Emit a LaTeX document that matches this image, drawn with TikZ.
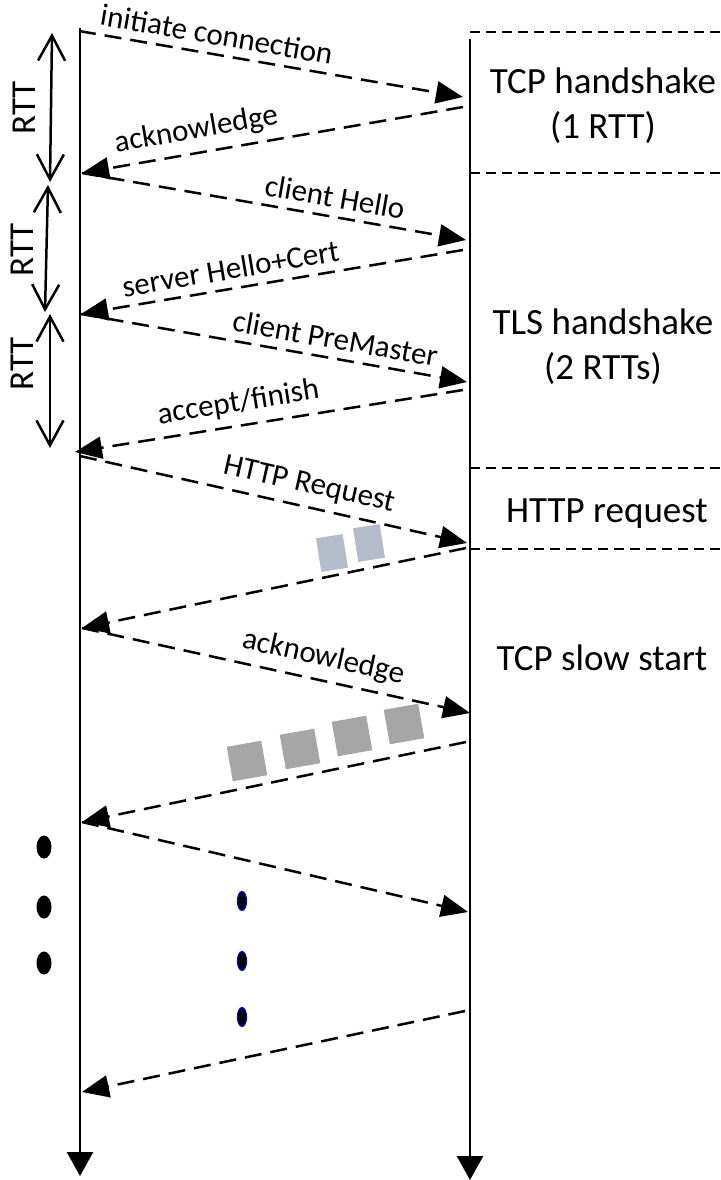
\documentclass[tikz,border=0pt]{standalone}
\usepackage{fontspec}
\setmainfont{Carlito}
\usetikzlibrary{arrows.meta,shapes.geometric}
\definecolor{pktgray}{RGB}{166,166,166}
\definecolor{reqgray}{RGB}{180,187,201}
\tikzstyle{timeline}=[line width=2.5pt,-{Triangle[length=24pt,width=26pt]}]
\tikzstyle{msg}=[line width=2.5pt,
                 dash pattern=on 17pt off 9pt,
                 -{Triangle[length=27pt,width=22pt]}]
\tikzstyle{msglabel}=[sloped,
                      above=6pt,
                      inner sep=2pt,
                      font=\fontsize{31}{37}\selectfont]
\tikzstyle{phaseline}=[line width=2pt,dash pattern=on 10pt off 6pt]
\tikzstyle{phasetext}=[align=center,font=\fontsize{37}{45}\selectfont]
\tikzstyle{rtt}=[line width=2.5pt,
                 {Straight Barb[length=25pt,width=27pt]}-{Straight Barb[length=25pt,width=27pt]}]
\tikzstyle{rttlabel}=[rotate=90,font=\fontsize{35}{42}\selectfont]
\tikzstyle{pkt}=[rectangle,fill=pktgray,minimum size=35pt,inner sep=0pt,rotate=10]
\tikzstyle{reqpkt}=[rectangle,
                    fill=reqgray,
                    minimum width=27pt,
                    minimum height=34pt,
                    inner sep=0pt,
                    rotate=9]
\tikzstyle{bigdot}=[ellipse,fill=black,minimum width=15pt,minimum height=23pt,inner sep=0pt]
\tikzstyle{bluedot}=[ellipse,
                     fill=black,
                     draw=blue,
                     line width=1.2pt,
                     minimum width=9pt,
                     minimum height=19pt,
                     inner sep=0pt]
\begin{document}
\begin{tikzpicture}[x=1pt,y=-1pt]
    \useasboundingbox (0,0) rectangle (720,1180);
    \draw[timeline] (80,28) -- (80,1176);
    \draw[timeline] (470,39) -- (470,1180);

    \draw[phaseline] (470,32) -- (720,32);
    \draw[phaseline] (470,173) -- (720,173);
    \draw[phaseline] (470,468) -- (720,468);
    \draw[phaseline] (470,549) -- (720,549);
    \node[phasetext] (tcphs) at (603,106) {TCP handshake\\(1 RTT)};
    \node[phasetext] (tlshs) at (603,347) {TLS handshake\\(2 RTTs)};
    \node[phasetext,anchor=base] (httpreq) at (607,522) {HTTP request};
    \node[phasetext,anchor=base] (slowstart) at (602,670) {TCP slow start};

    \coordinate (c1) at (79,31);
    \coordinate (s1) at (463,97);
    \coordinate (s2) at (463,107);
    \coordinate (c2) at (82,173);
    \coordinate (s3) at (466,240);
    \coordinate (s4) at (463,250);
    \coordinate (c4) at (81,314);
    \coordinate (s5) at (467,382);
    \coordinate (s6) at (463,390);
    \coordinate (c6) at (75,452);
    \coordinate (c7) at (80,456);
    \coordinate (s7) at (467,543);
    \coordinate (s8) at (466,548);
    \coordinate (c8) at (82,628);
    \coordinate (s9) at (470,713);
    \coordinate (s10) at (466,742);
    \coordinate (c10) at (82,822);
    \coordinate (s11) at (468,912);
    \coordinate (s12) at (465,1011);
    \coordinate (c12) at (82,1092);
    \path[msg] (c1) edge node[msglabel,pos=.35] {initiate connection} (s1)
    (s2) edge node[msglabel,pos=.69] {acknowledge} (c2)
    (c2) edge node[msglabel,pos=.65] {client Hello} (s3)
    (s4) edge node[msglabel,pos=.6] {server Hello+Cert} (c4)
    (c4) edge node[msglabel,pos=.65] {client PreMaster} (s5)
    (s6) edge node[msglabel,pos=.57] {accept/finish} (c6)
    (c7) edge node[msglabel,pos=.58] {HTTP Request} (s7)
    (s8) edge (c8)
    (c8) edge node[msglabel,pos=.61] {acknowledge} (s9)
    (s10) edge (c10)
    (c10) edge (s11)
    (s12) edge (c12);

    \coordinate (r1a) at (52,33);
    \coordinate (r1b) at (50,182);
    \coordinate (r2a) at (48,185);
    \coordinate (r2b) at (45,312);
    \coordinate (r3a) at (50,314);
    \coordinate (r3b) at (50,448);
    \draw[rtt] (r1a) -- (r1b);
    \draw[rtt] (r2a) -- (r2b);
    \draw[rtt] (r3a) -- (r3b);
    \node[rttlabel] (rtt1) at (24,108) {RTT};
    \node[rttlabel] (rtt2) at (22,250) {RTT};
    \node[rttlabel] (rtt3) at (22,364) {RTT};

    \node[reqpkt] (req1) at (332,553) {};
    \node[reqpkt] (req2) at (369,543) {};
    \node[pkt] (pkt1) at (247,761) {};
    \node[pkt] (pkt2) at (300,749) {};
    \node[pkt] (pkt3) at (352,736) {};
    \node[pkt] (pkt4) at (404,724) {};

    \node[bigdot] (dot1) at (44,847) {};
    \node[bigdot] (dot2) at (44,907) {};
    \node[bigdot] (dot3) at (44,963) {};
    \node[bluedot] (bdot1) at (242,901) {};
    \node[bluedot] (bdot2) at (242,961) {};
    \node[bluedot] (bdot3) at (242,1017) {};
\end{tikzpicture}
\end{document}
